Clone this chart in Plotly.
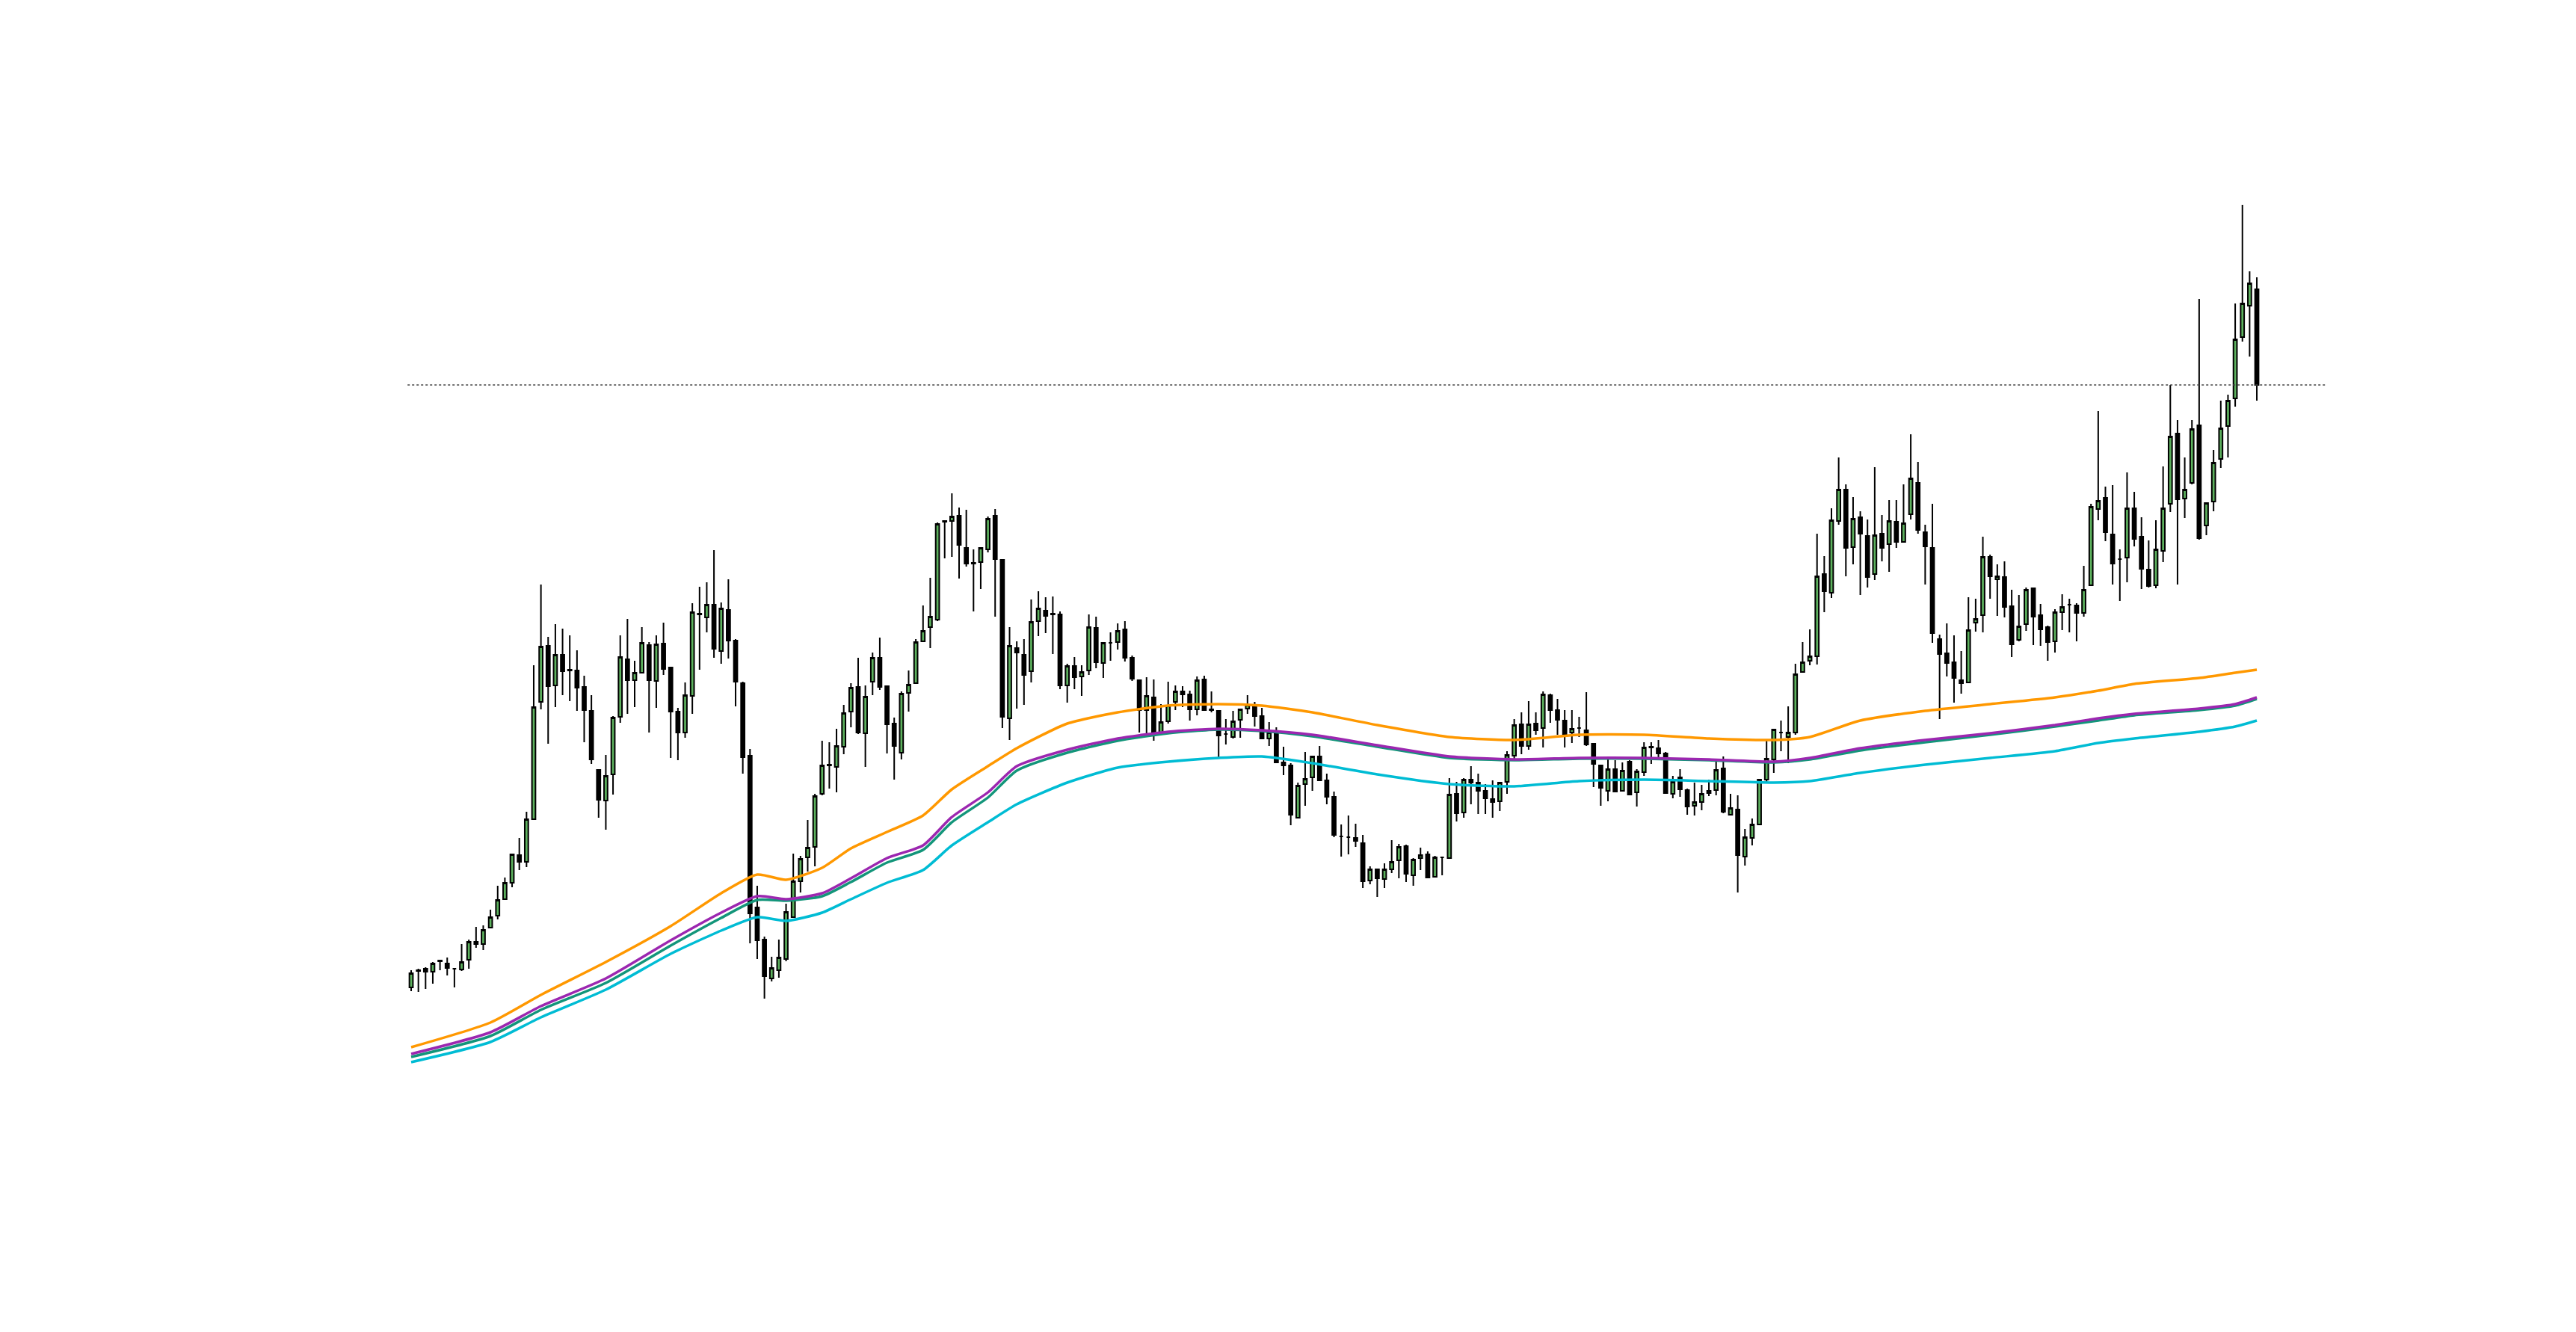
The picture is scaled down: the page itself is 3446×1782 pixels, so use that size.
import plotly.graph_objects as go

opens = [180,202,205,201,215,212,205,204,217,241,238,260,276,298,320,357,348,405,562,637,
584,625,604,604,582,550,471,430,465,542,619,591,601,638,590,640,608,549,521,570,
679,675,692,630,685,644,587,490,287,244,192,203,218,274,322,354,368,439,477,475,
502,549,582,520,589,621,583,533,494,574,587,643,662,672,803,804,811,768,747,749,
766,811,752,540,634,625,603,670,684,679,679,584,610,596,604,661,614,641,642,659,
621,591,551,568,520,536,562,576,572,552,592,552,550,519,515,538,553,558,543,513,
521,481,477,407,452,461,489,457,435,382,381,380,373,323,338,325,338,350,369,330,
353,358,328,354,353,439,414,458,454,443,432,429,455,490,532,503,533,527,571,551,
537,521,527,524,506,477,443,472,443,482,441,468,501,500,493,439,461,444,423,428,
440,444,473,411,418,355,380,398,458,485,521,515,521,602,617,623,733,708,804,846,
769,809,784,733,787,773,803,776,813,855,789,768,646,627,615,591,588,668,678,756,
726,729,690,645,666,714,678,662,643,682,692,691,681,718,820,835,786,753,755,821,
783,739,718,764,827,921,834,855,932,798,830,887,931,968,1050,1092,1114]
highs = [203,205,207,214,217,220,206,238,244,261,263,284,316,327,359,380,415,611,719,649,
666,660,651,631,597,571,471,491,543,651,673,617,662,642,651,668,609,554,588,694,
716,722,765,695,726,646,589,499,316,248,221,244,292,359,356,404,439,510,508,526,
558,587,621,584,628,648,584,541,576,604,646,691,728,802,804,841,822,819,766,768,
810,820,752,662,643,646,699,710,702,703,683,613,622,611,679,676,642,655,667,670,
624,591,595,592,559,589,584,583,577,596,597,576,550,539,550,553,571,562,554,535,
528,502,480,454,495,490,503,466,442,398,410,399,384,342,339,346,377,372,371,353,
367,362,356,354,460,455,460,476,466,452,457,455,496,539,548,563,548,576,573,566,
551,551,542,575,506,477,486,484,481,484,472,508,508,511,495,463,472,446,454,451,
458,484,489,439,437,392,406,459,511,526,537,556,613,642,659,787,757,821,889,853,
836,817,806,876,812,832,832,853,920,883,799,827,652,667,651,630,702,700,783,759,
746,750,712,705,715,715,693,664,686,706,700,694,744,827,951,850,852,766,869,843,
809,778,805,877,986,939,889,939,1101,829,899,965,973,1095,1227,1138,1130]
lows = [175,174,178,185,203,196,180,202,205,233,230,259,271,297,314,337,341,404,552,506,
555,571,563,550,508,479,407,391,438,534,546,555,600,521,554,598,487,484,514,546,
605,655,621,613,620,556,466,239,218,165,188,193,215,273,307,335,342,437,446,441,
492,528,519,475,571,578,493,458,485,549,587,642,634,670,754,756,727,743,683,713,
762,676,527,511,553,558,588,650,654,626,579,561,579,570,598,607,594,617,632,616,
590,521,520,510,518,533,551,555,537,544,551,548,488,505,513,514,546,529,513,503,
481,464,397,406,423,443,457,425,381,355,358,368,313,318,301,313,333,326,321,316,
337,327,327,330,352,402,407,425,412,412,407,416,439,485,492,498,518,501,534,518,
501,507,515,503,448,423,429,442,442,438,422,463,479,484,439,433,435,411,410,417,
436,437,413,411,307,343,370,397,453,467,496,480,518,601,611,612,682,701,799,730,
746,705,715,725,750,736,768,775,806,787,719,641,539,596,561,573,587,656,655,700,
677,675,622,643,657,638,637,617,628,658,655,643,676,717,805,777,719,697,722,770,
713,715,714,749,816,719,808,853,779,785,817,875,889,957,1044,1024,965]
closes = [199,203,201,212,216,206,205,214,241,238,257,274,297,320,358,348,405,555,636,583,
625,603,605,581,551,485,431,463,541,622,591,601,641,591,639,606,549,521,571,682,
680,692,633,687,644,589,488,279,243,195,206,220,281,322,352,367,436,477,478,503,
547,581,521,569,621,582,532,503,573,585,642,657,676,800,804,810,772,747,748,768,
807,753,542,637,628,598,669,687,677,680,584,610,595,602,662,615,641,641,657,621,
593,551,570,521,535,557,576,572,552,591,551,551,517,519,536,552,558,543,513,521,
481,477,411,450,459,489,457,435,384,382,381,376,322,338,326,338,348,368,332,351,
357,327,354,354,438,413,458,454,443,433,428,454,491,531,503,532,524,572,551,538,
518,526,527,505,479,447,472,442,470,438,469,501,502,493,440,455,445,422,428,439,
443,471,415,420,357,381,398,458,486,525,521,521,599,615,623,730,710,805,846,768,
807,787,729,785,768,804,776,801,861,792,770,654,626,614,594,587,658,673,756,730,
730,689,639,663,712,676,659,642,682,689,692,681,712,823,831,789,747,753,821,780,
740,717,766,821,917,833,846,927,781,828,882,928,965,1047,1095,1122,986]

idx = list(range(1, len(closes) + 1))

ma_idx = [1,12,19,28,37,44,49,53,58,62,67,72,76,81,85,92,99,106,113,119,126,135,145,154,163,172,181,190,195,202,211,220,229,235,240,249,254,257]
ma_orange = [100,133,170,214,262,306,331,324,340,366,388,410,445,476,500,533,548,557,559,557,548,531,515,511,518,518,513,511,515,537,550,559,568,577,586,594,601,605]
ma_purple = [91,120,155,192,243,280,302,298,306,326,353,370,408,441,476,498,513,522,526,524,518,504,489,485,487,487,485,482,487,500,511,520,531,540,546,553,559,568]
ma_teal = [87,115,150,186,236,273,297,296,302,321,347,364,401,434,470,494,510,520,525,523,516,502,487,484,486,486,484,481,485,497,508,518,529,537,544,551,557,566]
ma_cyan = [80,107,140,177,225,256,274,269,280,298,320,337,370,401,425,454,474,482,487,489,480,465,452,449,456,458,456,454,456,467,478,487,496,507,513,522,529,537]

ref_level = 986

fig = go.Figure()
for vals, col in [(ma_orange, "#FF9800"), (ma_cyan, "#00BCD4"), (ma_teal, "#13957A"), (ma_purple, "#9C27B0")]:
    fig.add_trace(go.Scatter(x=ma_idx, y=vals, mode="lines", line=dict(color=col, width=3.5, shape="spline", smoothing=0.6), hoverinfo="skip"))

fig.add_trace(go.Candlestick(
    x=idx, open=opens, high=highs, low=lows, close=closes,
    increasing=dict(line=dict(color="#000000", width=2), fillcolor="#5DB15E"),
    decreasing=dict(line=dict(color="#000000", width=2), fillcolor="#000000"),
    whiskerwidth=0,
))

fig.add_shape(type="line", x0=0.5, x1=266.5, y0=ref_level, y1=ref_level,
              line=dict(color="#444444", width=1.5, dash="dot"))

fig.update_layout(
    width=3446, height=1782,
    margin=dict(l=0, r=0, t=0, b=0),
    paper_bgcolor="white", plot_bgcolor="white",
    showlegend=False,
    xaxis=dict(range=[-55.2, 302.1], visible=False, rangeslider=dict(visible=False)),
    yaxis=dict(range=[-289, 1493], visible=False),
)
fig.write_html("out.html")
